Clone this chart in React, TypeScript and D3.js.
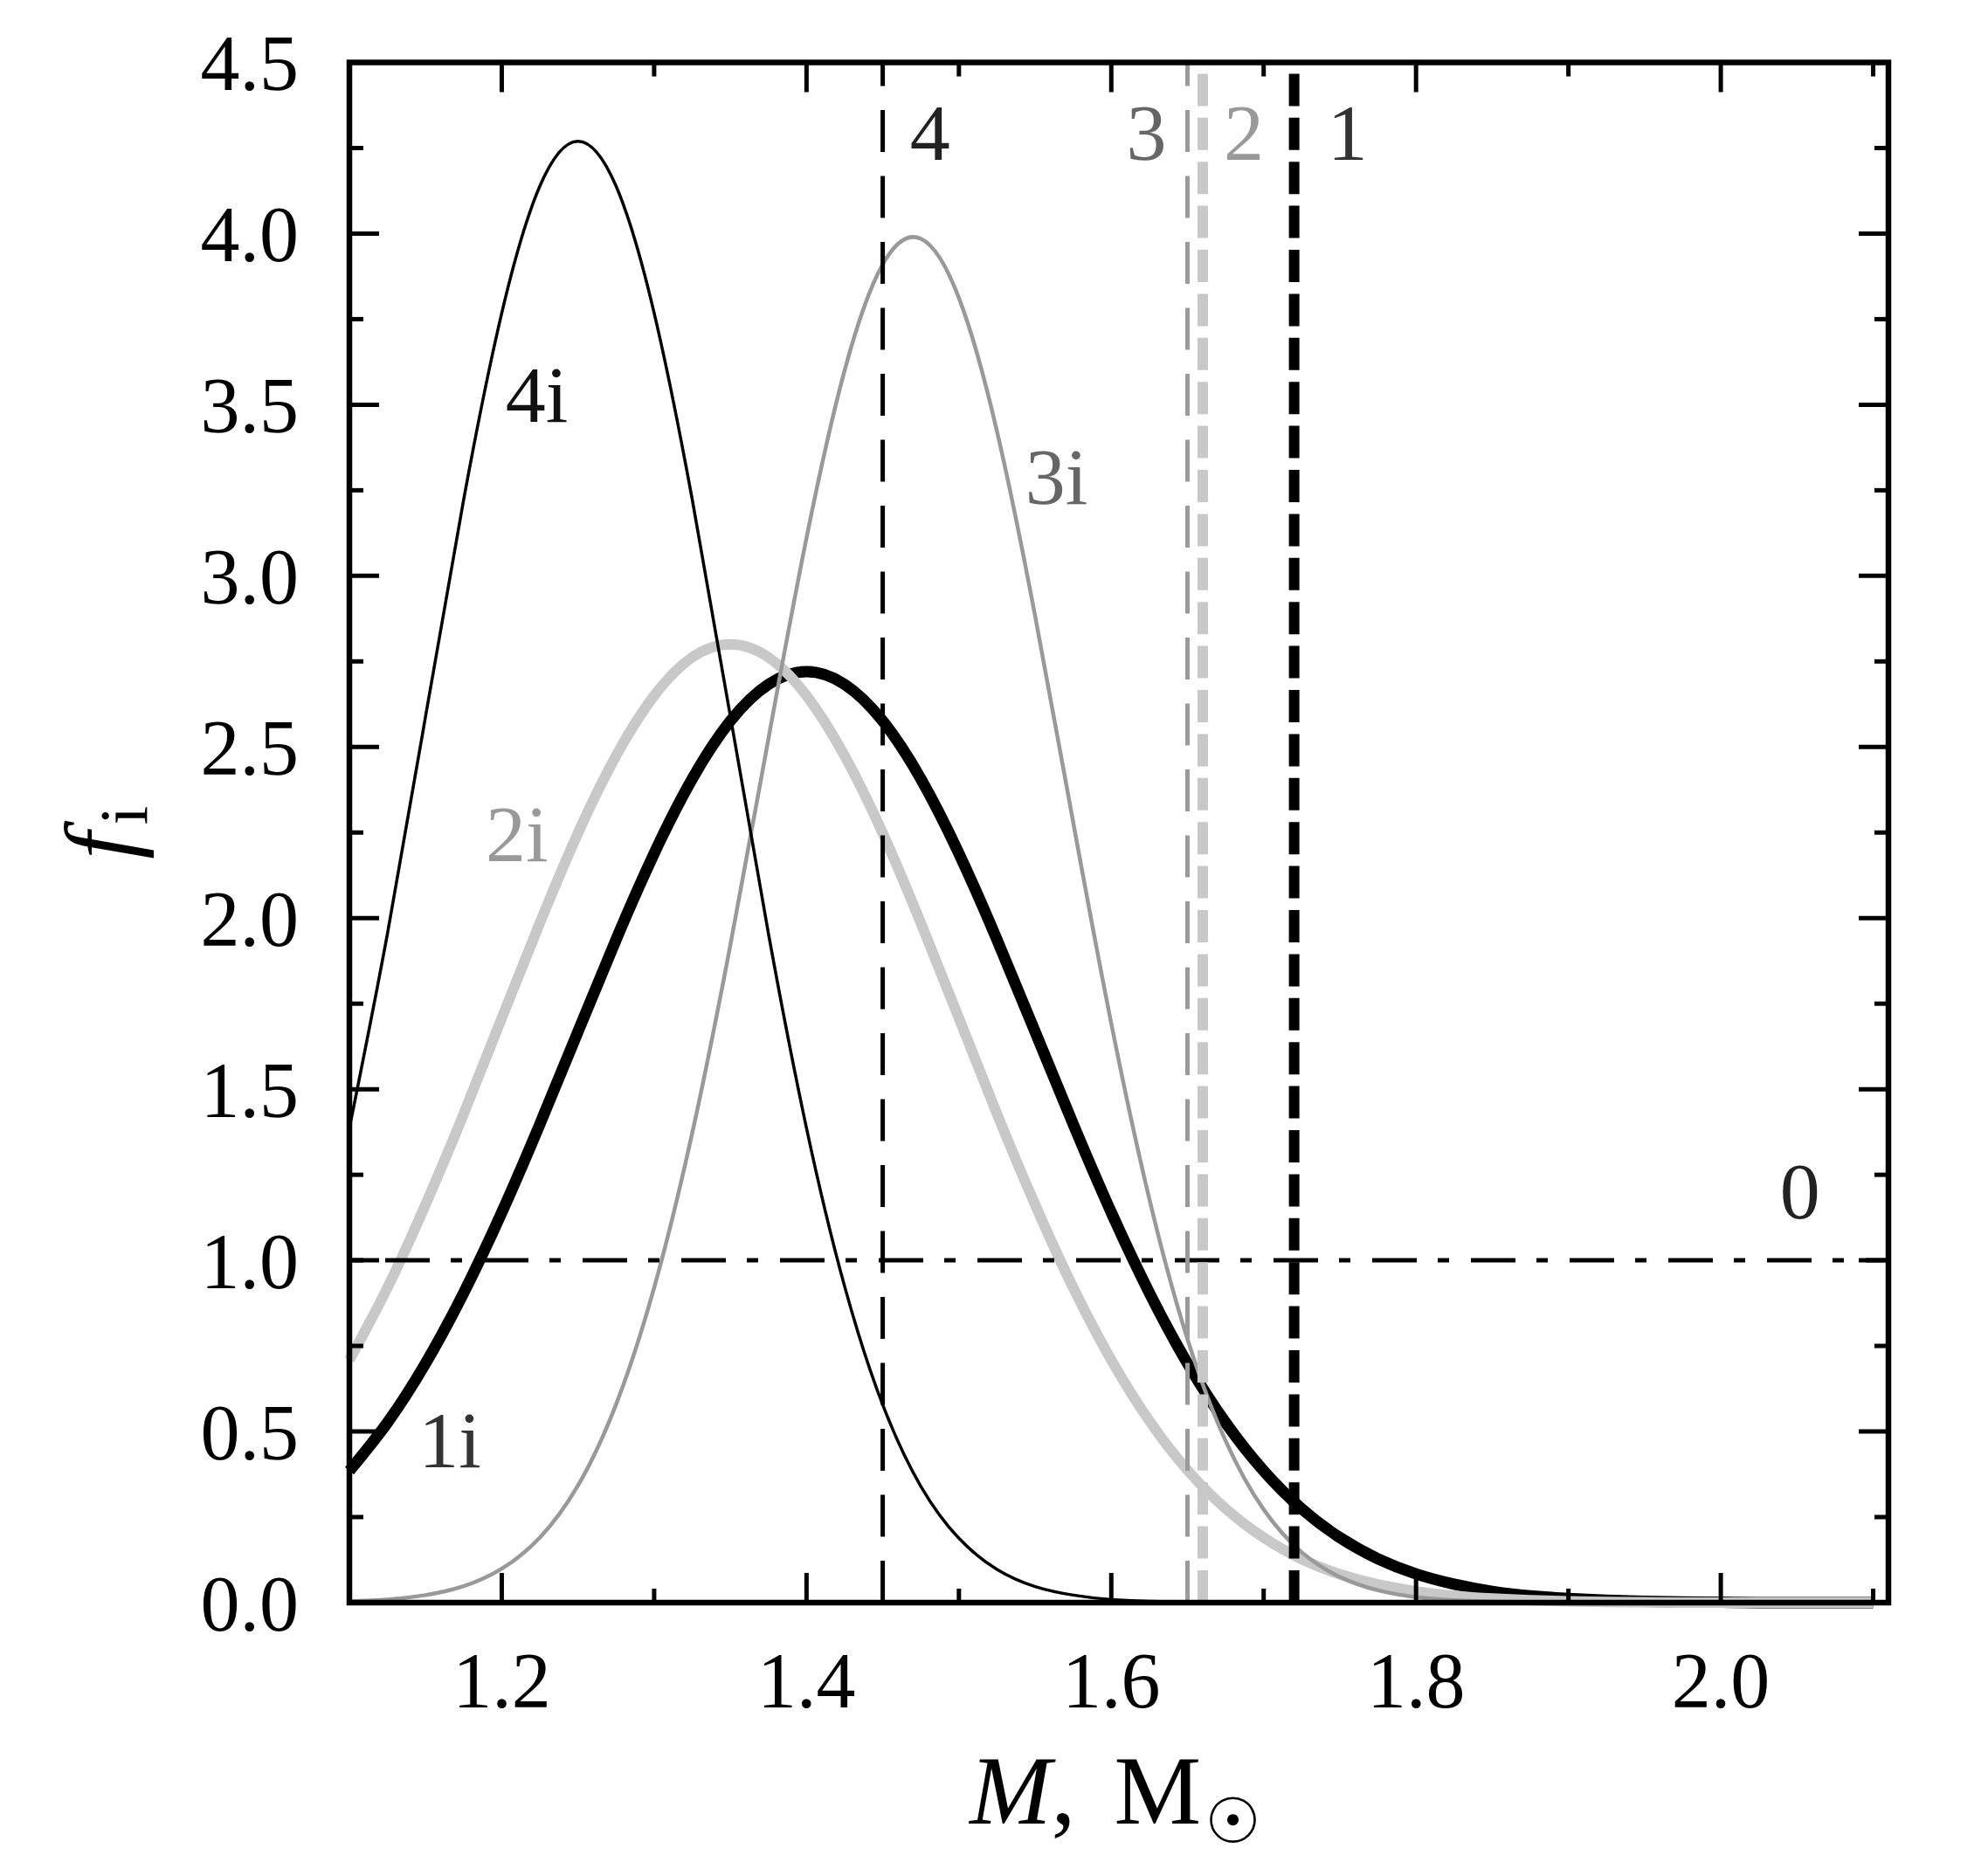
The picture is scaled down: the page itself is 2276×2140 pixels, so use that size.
import React from 'react';
import * as d3 from 'd3';

// mass grid, M in solar masses
const massGrid = [
  1.1, 1.125, 1.15, 1.175, 1.2, 1.225, 1.25, 1.275, 1.3, 1.325,
  1.35, 1.375, 1.4, 1.425, 1.45, 1.475, 1.5, 1.525, 1.55, 1.575,
  1.6, 1.625, 1.65, 1.675, 1.7, 1.725, 1.75, 1.775, 1.8, 1.825,
  1.85, 1.875, 1.9, 1.925, 1.95, 1.975, 2.0, 2.025, 2.05, 2.075, 2.1,
];

// f_i
const f1i = [
  0.385, 0.526, 0.699, 0.905, 1.14, 1.398, 1.668, 1.937, 2.189, 2.407,
  2.576, 2.683, 2.72, 2.683, 2.576, 2.407, 2.189, 1.937, 1.668, 1.398,
  1.14, 0.905, 0.699, 0.526, 0.385, 0.274, 0.19, 0.128, 0.084, 0.054,
  0.033, 0.02, 0.012, 0.007, 0.004, 0.002, 0.001, 0, 0, 0, 0,
];
const f2i = [
  0.709, 0.92, 1.163, 1.428, 1.708, 1.986, 2.248, 2.474, 2.65, 2.762,
  2.8, 2.762, 2.65, 2.474, 2.248, 1.986, 1.708, 1.428, 1.163, 0.92,
  0.709, 0.531, 0.387, 0.275, 0.19, 0.127, 0.083, 0.053, 0.033, 0.02,
  0.012, 0.007, 0.004, 0.002, 0.001, 0, 0, 0, 0, 0, 0,
];
const f3i = [
  0.004, 0.009, 0.022, 0.048, 0.099, 0.19, 0.342, 0.579, 0.92, 1.372,
  1.921, 2.524, 3.111, 3.6, 3.91, 3.985, 3.812, 3.422, 2.883, 2.28,
  1.692, 1.179, 0.77, 0.473, 0.272, 0.147, 0.075, 0.036, 0.016, 0.007,
  0.003, 0.001, 0, 0, 0, 0, 0, 0, 0, 0, 0,
];
const f4i = [
  1.386, 1.955, 2.59, 3.223, 3.768, 4.139, 4.27, 4.139, 3.768, 3.223,
  2.59, 1.955, 1.386, 0.924, 0.578, 0.34, 0.188, 0.097, 0.047, 0.022,
  0.009, 0.004, 0.001, 0, 0, 0, 0, 0, 0, 0,
  0, 0, 0, 0, 0, 0, 0, 0, 0, 0, 0,
];

// vertical limits (dashed) and the uniform level
const limitNames = ['4', '3', '2', '1'];
const limitMasses = [1.45, 1.65, 1.66, 1.72];
const uniformLevel = 1.0;

const xMajor = [1.2, 1.4, 1.6, 1.8, 2.0];
const xMinor = [1.3, 1.5, 1.7, 1.9, 2.1];
const yMajor = [0, 0.5, 1.0, 1.5, 2.0, 2.5, 3.0, 3.5, 4.0, 4.5];
const yMinor = [0.25, 0.75, 1.25, 1.75, 2.25, 2.75, 3.25, 3.75, 4.25];

// curve labels in data coordinates
const curveLabels = [
  { text: '4i', m: 1.223, f: 3.45, color: '#111' },
  { text: '3i', m: 1.564, f: 3.21, color: '#666' },
  { text: '2i', m: 1.21, f: 2.166, color: '#999' },
  { text: '1i', m: 1.166, f: 0.396, color: '#333' },
  { text: '0', m: 2.052, f: 1.123, color: '#222' },
];
const limitLabelM = [1.481, 1.623, 1.687, 1.755];
const limitLabelF = 4.215;

const W = 2276;
const H = 2140;
const left = 400;
const right = 2162;
const top = 71.5;
const bottom = 1835;
const serif = '"Liberation Serif", "Times New Roman", Times, serif';

export default function App() {
  const x = d3.scaleLinear().domain([1.1, 2.11]).range([left, right]);
  const y = d3.scaleLinear().domain([0, 4.5]).range([bottom, top]);

  const line = d3
    .line<number>()
    .x((_, i) => x(massGrid[i]))
    .y((d) => y(d))
    .curve(d3.curveNatural);

  const curves = [
    { data: f1i, color: '#000', width: 13 },
    { data: f2i, color: '#c8c8c8', width: 12 },
    { data: f3i, color: '#999', width: 4.5 },
    { data: f4i, color: '#000', width: 3.5 },
  ];

  const limitStyle = [
    { color: '#000', width: 5, dash: '48 27.5' },
    { color: '#9a9a9a', width: 5, dash: '48 27.5' },
    { color: '#c8c8c8', width: 12, dash: '37 13.4' },
    { color: '#000', width: 12, dash: '37 13.4' },
  ];
  const limitText = ['#222', '#666', '#999', '#333'];

  const majorLen = 34;
  const minorLen = 16;

  return (
    <svg
      width={W}
      height={H}
      style={{ position: 'absolute', left: 0, top: 0, background: '#fff', fontFamily: serif }}
    >
      <rect width={W} height={H} fill="#fff" />

      {curves.map((c, i) => (
        <path
          key={'c' + i}
          d={line(c.data) || ''}
          fill="none"
          stroke={c.color}
          strokeWidth={c.width}
          strokeLinejoin="round"
        />
      ))}

      {/* uniform level 0 */}
      <line
        x1={left}
        x2={right}
        y1={y(uniformLevel)}
        y2={y(uniformLevel)}
        stroke="#000"
        strokeWidth={5}
        strokeDasharray="51 24 13 25"
        strokeDashoffset={72}
      />

      {limitMasses.map((m, i) => (
        <line
          key={'l' + i}
          x1={x(m)}
          x2={x(m)}
          y1={y(0)}
          y2={y(4.5)}
          stroke={limitStyle[i].color}
          strokeWidth={limitStyle[i].width}
          strokeDasharray={limitStyle[i].dash}
        />
      ))}

      {/* frame ticks */}
      <g stroke="#000" strokeWidth={5}>
        {xMajor.concat(xMinor).map((t, i) => {
          const len = i < xMajor.length ? majorLen : minorLen;
          return (
            <g key={'xt' + i}>
              <line x1={x(t)} x2={x(t)} y1={bottom} y2={bottom - len} />
              <line x1={x(t)} x2={x(t)} y1={top} y2={top + len} />
            </g>
          );
        })}
        {yMajor.concat(yMinor).map((t, i) => {
          const len = i < yMajor.length ? majorLen : minorLen;
          return (
            <g key={'yt' + i}>
              <line x1={left} x2={left + len} y1={y(t)} y2={y(t)} />
              <line x1={right} x2={right - len} y1={y(t)} y2={y(t)} />
            </g>
          );
        })}
      </g>

      <rect
        x={left}
        y={top}
        width={right - left}
        height={bottom - top}
        fill="none"
        stroke="#000"
        strokeWidth={6.5}
      />

      {/* tick labels */}
      <g fontSize={90} fill="#000">
        {xMajor.map((t) => (
          <text key={'xl' + t} x={x(t)} y={1955} textAnchor="middle">
            {t.toFixed(1)}
          </text>
        ))}
        {yMajor.map((t) => (
          <text key={'yl' + t} x={342} y={y(t)} dy="0.35em" textAnchor="end">
            {t.toFixed(1)}
          </text>
        ))}
      </g>

      {/* annotations */}
      <g fontSize={92}>
        {limitNames.map((n, i) => (
          <text
            key={'ln' + i}
            x={x(limitLabelM[i])}
            y={y(limitLabelF)}
            textAnchor="middle"
            fill={limitText[i]}
          >
            {n}
          </text>
        ))}
        {curveLabels.map((l) => (
          <text key={'cl' + l.text} x={x(l.m)} y={y(l.f)} textAnchor="middle" fill={l.color}>
            {l.text}
          </text>
        ))}
      </g>

      {/* axis titles */}
      <text x={(left + right) / 2 - 4} y={2088} fontSize={112} textAnchor="middle" fill="#000">
        <tspan fontStyle="italic">M</tspan>
        <tspan>,</tspan>
        <tspan dx={44}>M</tspan>
        <tspan fontFamily="'DejaVu Sans', sans-serif" fontSize={72} dy={22} dx={4}>
          ☉
        </tspan>
      </text>
      <text
        transform={`translate(152, ${(top + bottom) / 2}) rotate(-90)`}
        textAnchor="middle"
        fontSize={112}
        fill="#000"
      >
        <tspan fontStyle="italic">f</tspan>
        <tspan fontSize={78} dy={16} dx={8}>
          i
        </tspan>
      </text>
    </svg>
  );
}
